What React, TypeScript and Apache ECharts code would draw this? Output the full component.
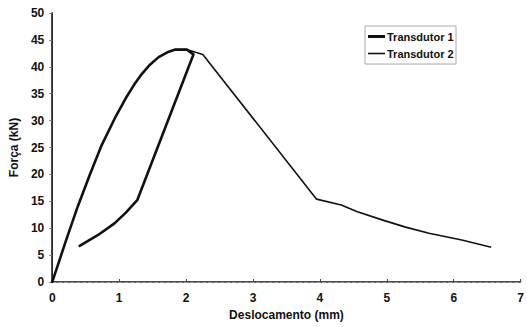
import React, { useEffect, useRef } from "react";
import * as echarts from "echarts";

const xTicks = [0, 1, 2, 3, 4, 5, 6, 7];
const yTicks = [0, 5, 10, 15, 20, 25, 30, 35, 40, 45, 50];

// Transdutor 1 (loading up to peak, then unloading back)
const t1X = [0, 0.04, 0.2, 0.38, 0.56, 0.73, 0.95, 1.1, 1.22, 1.34, 1.46, 1.59, 1.72, 1.84, 2.01, 2.11, 1.27, 1.1, 0.93, 0.68, 0.41];
const t1Y = [0, 1.5, 7.5, 14.0, 19.9, 25.2, 30.8, 34.2, 36.6, 38.7, 40.4, 41.8, 42.7, 43.2, 43.2, 42.3, 15.2, 12.9, 10.9, 8.7, 6.7];

// Transdutor 2 (post-peak descending branch)
const t2X = [1.84, 2.01, 2.25, 3.95, 4.32, 4.55, 4.94, 5.28, 5.63, 6.12, 6.56];
const t2Y = [43.2, 43.2, 42.3, 15.4, 14.3, 13.1, 11.5, 10.2, 9.05, 7.8, 6.45];

const seriesNames = ["Transdutor 1", "Transdutor 2"];
const xTitle = "Deslocamento (mm)";
const yTitle = "Força (kN)";

export default function App() {
  const ref = useRef<HTMLDivElement>(null);
  useEffect(() => {
    if (!ref.current) return;
    const chart = echarts.init(ref.current, null, { renderer: "svg" });
    const font = "Liberation Sans, Arial, sans-serif";
    const legendCommon = {
      orient: "vertical",
      left: 368,
      itemWidth: 17,
      icon: "rect",
      padding: 0,
      itemStyle: { color: "#111", borderWidth: 0 },
      textStyle: { fontFamily: font, fontWeight: "bold", fontSize: 11, color: "#111", padding: [0, 0, 0, -3] },
    };
    chart.setOption({
      animation: false,
      backgroundColor: "#fff",
      grid: { left: 49, right: 4, top: 13, bottom: 45, containLabel: false },
      legend: [
        { ...legendCommon, top: 31, itemHeight: 3, data: [seriesNames[0]] },
        { ...legendCommon, top: 48, itemHeight: 1.6, data: [seriesNames[1]] },
      ],
      graphic: [
        {
          type: "rect",
          shape: { x: 365, y: 26, width: 91, height: 38 },
          style: { fill: "none", stroke: "#aaa", lineWidth: 1 },
          silent: true,
        },
      ],
      xAxis: [
        {
          type: "value",
          min: xTicks[0],
          max: xTicks[xTicks.length - 1],
          interval: 1,
          position: "bottom",
          name: xTitle,
          nameLocation: "middle",
          nameGap: 26,
          nameTextStyle: { fontFamily: font, fontWeight: "bold", fontSize: 12, color: "#111" },
          axisLine: { onZero: false, lineStyle: { color: "#111", width: 1.5 } },
          axisTick: { inside: true, length: 3, lineStyle: { color: "#444" } },
          axisLabel: { fontFamily: font, fontWeight: "bold", fontSize: 12, color: "#111", margin: 10 },
          splitLine: { show: false },
        },
        {
          type: "value",
          min: xTicks[0],
          max: xTicks[xTicks.length - 1],
          position: "top",
          axisLine: { show: true, lineStyle: { color: "#999", width: 1, type: "dashed" } },
          axisTick: { show: false },
          axisLabel: { show: false },
          splitLine: { show: false },
        },
      ],
      yAxis: [
        {
          type: "value",
          min: yTicks[0],
          max: yTicks[yTicks.length - 1],
          interval: 5,
          position: "left",
          name: yTitle,
          nameLocation: "middle",
          nameGap: 30,
          nameTextStyle: { fontFamily: font, fontWeight: "bold", fontSize: 12, color: "#111" },
          axisLine: { show: true, onZero: false, lineStyle: { color: "#777", width: 1 } },
          axisTick: { show: true, length: 3, lineStyle: { color: "#777" } },
          axisLabel: { fontFamily: font, fontWeight: "bold", fontSize: 12, color: "#111", margin: 8 },
          splitLine: { show: false },
        },
        {
          type: "value",
          min: yTicks[0],
          max: yTicks[yTicks.length - 1],
          position: "right",
          axisLine: { show: true, lineStyle: { color: "#111", width: 1.5 } },
          axisTick: { show: false },
          axisLabel: { show: false },
          splitLine: { show: false },
        },
      ],
      series: [
        {
          name: seriesNames[0],
          type: "line",
          xAxisIndex: 0,
          yAxisIndex: 0,
          symbol: "none",
          smooth: false,
          lineStyle: { color: "#111", width: 2.6, join: "round", cap: "round" },
          itemStyle: { color: "#111" },
          data: t1X.map((x, i) => [x, t1Y[i]]),
        },
        {
          name: seriesNames[1],
          type: "line",
          xAxisIndex: 0,
          yAxisIndex: 0,
          symbol: "none",
          smooth: false,
          lineStyle: { color: "#111", width: 1.6, join: "round" },
          itemStyle: { color: "#111" },
          data: t2X.map((x, i) => [x, t2Y[i]]),
        },
      ],
    });
    return () => chart.dispose();
  }, []);
  return <div ref={ref} style={{ width: 527, height: 327, position: "absolute", left: 0, top: 0 }} />;
}
